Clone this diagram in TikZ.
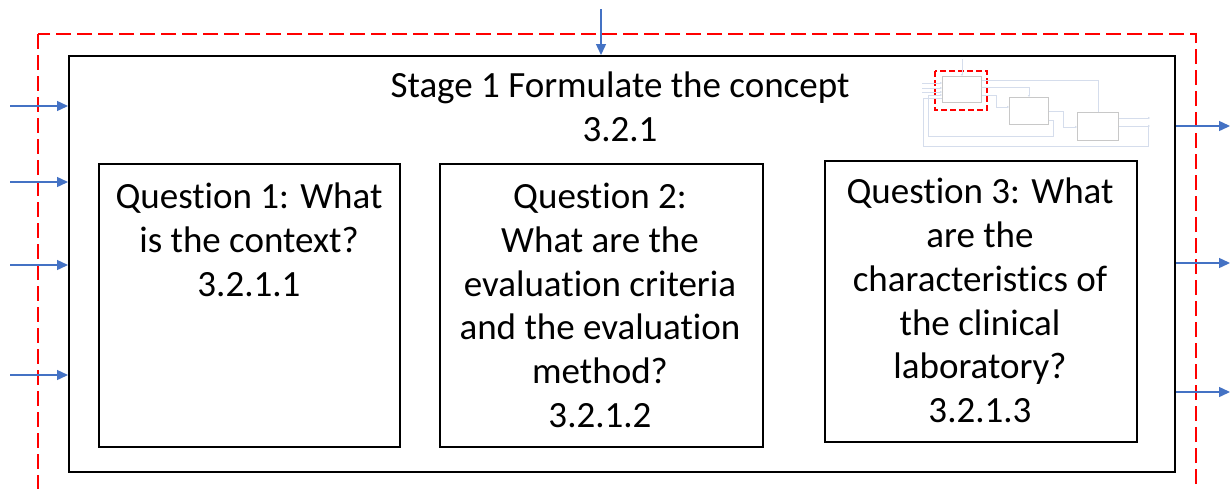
\documentclass[tikz,border=0pt]{standalone}
\usepackage{fontspec}
\setmainfont{Carlito}[Ligatures=NoCommon]
\usetikzlibrary{arrows.meta}
\definecolor{flowblue}{HTML}{4472C4}
\definecolor{faintline}{HTML}{D5DDEC}
\definecolor{faintbox}{HTML}{C8C8C8}
\begin{document}
\begin{tikzpicture}[x=1pt,y=-1pt,
  bigtext/.style={font=\fontsize{37}{43.7}\selectfont, align=center, inner sep=0pt},
  qbox/.style={draw=black, line width=1.8pt, inner sep=0pt, anchor=north west},
  flow/.style={draw=flowblue, line width=1.4pt, -{Triangle[length=11pt,width=10pt]}},
  thumbbox/.style={draw=faintbox, line width=0.8pt, inner sep=0pt, anchor=north west},
  thumbline/.style={draw=faintline, line width=0.8pt},
  thumbarrow/.style={thumbline, -{Triangle[length=2pt,width=2pt]}}]
\clip (0,0) rectangle (1230,488);
\fill[white] (0,0) rectangle (1230,488);

% outer boundary of the stage (dashed red) and the stage frame
\draw[red, line width=2pt, dash pattern=on 15pt off 6pt] (38,34) rectangle (1196,520);
\node[qbox, line width=2.4pt, minimum width=1106pt, minimum height=416pt] (stage) at (68,55) {};

% stage title
\node[bigtext, anchor=north] (title) at (620,71.5) {Stage 1 Formulate the concept\\3.2.1};

% the three questions
\node[qbox, minimum width=301pt, minimum height=283pt] (q1) at (98,163) {};
\node[qbox, minimum width=323pt, minimum height=283pt] (q2) at (439,163) {};
\node[qbox, minimum width=312pt, minimum height=281pt] (q3) at (824,160) {};
\node[bigtext, anchor=north] (q1t) at (249,183) {Question 1: What\\is the context?\\3.2.1.1};
\node[bigtext, anchor=north] (q2t) at (600,183) {Question 2:\\What are the\\evaluation criteria\\and the evaluation\\method?\\3.2.1.2};
\node[bigtext, anchor=north] (q3t) at (980,178) {Question 3: What\\are the\\characteristics of\\the clinical\\laboratory?\\3.2.1.3};

% inputs, control and outputs
\coordinate (ctl) at (601,9);
\draw[flow] (ctl) -- (stage.north -| ctl);
\foreach \y/\n in {106/a,182/b,265/c,375/d}{
  \coordinate (in\n) at (10,\y);
  \draw[flow] (in\n) -- (stage.west |- in\n);
}
\foreach \y/\n in {126/a,263/b,392/c}{
  \coordinate (out\n) at (1230,\y);
  \draw[flow] (stage.east |- out\n) -- (out\n);
}

% overview thumbnail of the whole process
\node[thumbbox, minimum width=39pt, minimum height=26pt] (ta) at (942,76) {};
\node[thumbbox, minimum width=39pt, minimum height=27pt] (tb) at (1009,97) {};
\node[thumbbox, minimum width=41pt, minimum height=28pt] (tc) at (1077,112) {};
\draw[red, line width=1.4pt, dash pattern=on 6pt off 3pt] (935,71) rectangle (987,110);
\coordinate (tctl) at (962,59);
\draw[thumbarrow] (tctl) -- (ta.north -| tctl);
\foreach \y/\n in {83/a,88/b,92/c}{
  \coordinate (tin\n) at (922,\y);
  \draw[thumbarrow] (tin\n) -- (ta.west |- tin\n);
}
\draw[thumbline] (ta.east |- 0,80) -| (1098,112);
\draw[thumbarrow] (ta.east |- 0,87) -| (tb.north -| 1029,0);
\draw[thumbarrow] (ta.east |- 0,95) -- (996,95) |- (tb.west |- 0,107);
\draw[thumbarrow] (tb.east |- 0,111) -- (1063,111) |- (tc.west |- 0,127);
\draw[thumbarrow] (tb.east |- 0,120) -- (1053,120) -- (1053,136) -- (928,136) |- (ta.west |- 0,95);
\coordinate (touta) at (1150,118);
\coordinate (toutb) at (1150,126);
\draw[thumbarrow] (tc.east |- touta) -- (touta);
\draw[thumbarrow] (tc.east |- toutb) -- (toutb);
\draw[thumbline] (1148,126) -- (1148,146) -- (923,146) |- (ta.west |- 0,98);
\end{tikzpicture}
\end{document}
